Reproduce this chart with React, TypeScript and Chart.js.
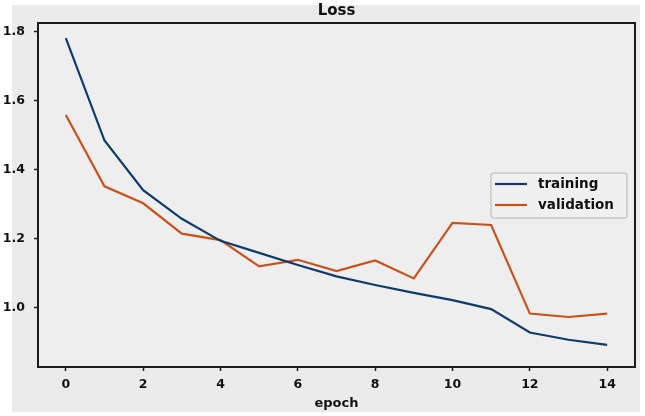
import React, { useEffect, useRef } from "react";
import { Chart, registerables } from "chart.js";

Chart.register(...registerables);

const epochs = [0, 1, 2, 3, 4, 5, 6, 7, 8, 9, 10, 11, 12, 13, 14];
const trainingLoss = [1.782, 1.485, 1.341, 1.258, 1.194, 1.159, 1.124, 1.091, 1.066, 1.043, 1.022, 0.996, 0.928, 0.907, 0.892];
const validationLoss = [1.559, 1.352, 1.303, 1.215, 1.196, 1.12, 1.139, 1.106, 1.137, 1.085, 1.246, 1.24, 0.983, 0.973, 0.983];
const xTicks = [0, 2, 4, 6, 8, 10, 12, 14];
const yTicks = [1.0, 1.2, 1.4, 1.6, 1.8];
const seriesNames = ["training", "validation"];
const seriesColors = ["#0f3b6b", "#c9521b"];

const FONT = "'DejaVu Sans', sans-serif";

const decorPlugin = {
  id: "decor",
  beforeDraw(chart: any) {
    const { ctx, chartArea } = chart;
    ctx.save();
    ctx.fillStyle = "#ffffff";
    ctx.fillRect(0, 0, chart.width, chart.height);
    ctx.fillStyle = "#ebebeb";
    ctx.fillRect(12, 5, 628, 407);
    ctx.fillStyle = "#eeeeee";
    ctx.fillRect(chartArea.left, chartArea.top, chartArea.right - chartArea.left, chartArea.bottom - chartArea.top);
    ctx.restore();
  },
  afterDraw(chart: any) {
    const { ctx, chartArea } = chart;
    ctx.save();
    ctx.strokeStyle = "#1c1c1c";
    ctx.lineWidth = 2;
    ctx.strokeRect(chartArea.left, chartArea.top, chartArea.right - chartArea.left, chartArea.bottom - chartArea.top);
    // legend
    const bx = 491, by = 173, bw = 136, bh = 45;
    ctx.fillStyle = "rgba(240,240,240,0.85)";
    ctx.strokeStyle = "#c8c8c8";
    ctx.lineWidth = 1.5;
    ctx.beginPath();
    (ctx as any).roundRect(bx, by, bw, bh, 3);
    ctx.fill();
    ctx.stroke();
    chart.data.datasets.forEach((ds: any, i: number) => {
      const y = 184 + i * 21;
      ctx.strokeStyle = ds.borderColor;
      ctx.lineWidth = 2.2;
      ctx.beginPath();
      ctx.moveTo(495, y);
      ctx.lineTo(527, y);
      ctx.stroke();
      ctx.fillStyle = "#111111";
      ctx.font = `bold 13.5px ${FONT}`;
      ctx.textBaseline = "middle";
      ctx.textAlign = "left";
      ctx.fillText(ds.label, 538, y);
    });
    ctx.restore();
  },
};

export default function App() {
  const ref = useRef<HTMLCanvasElement | null>(null);
  useEffect(() => {
    if (!ref.current) return;
    const series = [trainingLoss, validationLoss];
    const chart = new Chart(ref.current, {
      type: "line",
      data: {
        datasets: series.map((vals, i) => ({
          label: seriesNames[i],
          data: epochs.map((e, j) => ({ x: e, y: vals[j] })),
          borderColor: seriesColors[i],
          backgroundColor: seriesColors[i],
          borderWidth: 2.2,
          pointRadius: 0,
          tension: 0,
        })),
      },
      options: {
        responsive: false,
        animation: false,
        layout: { padding: { left: 0, right: 10, top: 0, bottom: 0 } },
        plugins: {
          legend: { display: false },
          tooltip: { enabled: false },
          title: {
            display: true,
            text: "Loss",
            fullSize: false,
            color: "#111111",
            font: { family: FONT, size: 15, weight: "bold" },
            padding: { top: 2.5, bottom: 2.5 },
          },
        },
        scales: {
          x: {
            type: "linear",
            min: -0.72,
            max: 14.72,
            afterBuildTicks: (s: any) => {
              s.ticks = xTicks.map((v) => ({ value: v }));
            },
            afterFit: (s: any) => {
              s.height = 49;
            },
            grid: { drawOnChartArea: false, drawTicks: true, tickLength: 4, color: "#1c1c1c", tickWidth: 1.5 },
            border: { display: false },
            ticks: {
              color: "#111111",
              font: { family: FONT, size: 12.5, weight: "bold" },
              padding: 6.5,
              maxRotation: 0,
              callback: (v: any) => String(v),
            },
            title: {
              display: true,
              text: "epoch",
              color: "#111111",
              font: { family: FONT, size: 13, weight: "bold" },
              padding: { top: 0, bottom: 4.5 },
            },
          },
          y: {
            type: "linear",
            min: 0.828,
            max: 1.826,
            afterBuildTicks: (s: any) => {
              s.ticks = yTicks.map((v) => ({ value: v }));
            },
            afterFit: (s: any) => {
              s.width = 38;
            },
            grid: { drawOnChartArea: false, drawTicks: true, tickLength: 4, color: "#1c1c1c", tickWidth: 1.5 },
            border: { display: false },
            ticks: {
              color: "#111111",
              font: { family: FONT, size: 12.5, weight: "bold" },
              padding: 9,
              callback: (v: any) => Number(v).toFixed(1),
            },
          },
        },
      },
      plugins: [decorPlugin],
    });
    return () => chart.destroy();
  }, []);
  return (
    <div style={{ position: "absolute", left: 0, top: 0, width: 645, height: 416, background: "#ffffff" }}>
      <canvas ref={ref} width={645} height={416} style={{ display: "block", width: 645, height: 416 }} />
    </div>
  );
}
